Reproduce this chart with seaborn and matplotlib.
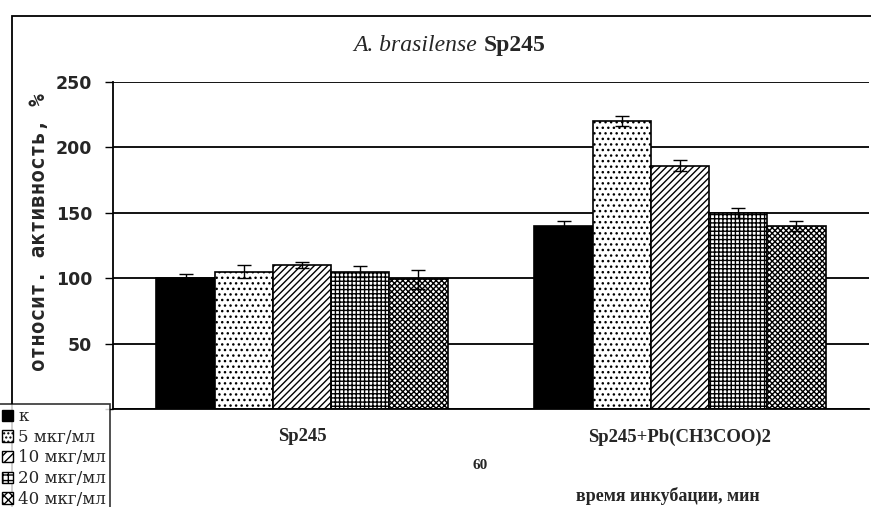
import pandas as pd
import matplotlib.pyplot as plt
import seaborn as sns
from matplotlib.patches import Patch, Rectangle

# данные
groups = ['Sp245', 'Sp245+Pb(CH3COO)2']
doses = ['к', '5 мкг/мл', '10 мкг/мл', '20 мкг/мл', '40 мкг/мл']
vals_sp245 = [100, 105, 110, 105, 99]
vals_pb = [140, 220, 186, 150, 140]
err_sp245 = [3, 5, 2, 4, 7]
err_pb = [4, 4, 4, 4, 4]

hatches = ['', '...', '/////', '++++', 'xxxxxx']
colors = ['black', 'white', 'white', 'white', 'white']

df = pd.DataFrame({
    'группа': [groups[0]] * 5 + [groups[1]] * 5,
    'доза': doses * 2,
    'акт': vals_sp245 + vals_pb,
    'err': err_sp245 + err_pb,
})

sns.set_style('white')
plt.rcParams['font.family'] = ['Liberation Serif', 'DejaVu Serif']
plt.rcParams['hatch.linewidth'] = 1.0

fig = plt.figure(figsize=(8.71, 5.07), dpi=100)
ax = fig.add_axes([0.1297, 0.1933, 0.868, 0.645])

sns.barplot(data=df, x='группа', y='акт', hue='доза', order=groups,
            hue_order=doses, palette=colors, edgecolor='black', linewidth=1.2,
            width=0.77, errorbar=None, legend=False, ax=ax)
ax.set_xlim(-0.5, 1.5)

# штриховка и планки погрешностей
bar_conts = list(ax.containers)
for i, cont in enumerate(bar_conts):
    for j, bar in enumerate(cont):
        bar.set_hatch(hatches[i])
        bar.set_edgecolor('black')
        x = bar.get_x() + bar.get_width() / 2
        e = df[(df['доза'] == doses[i]) & (df['группа'] == groups[j])]['err'].iloc[0]
        ax.errorbar(x, bar.get_height(), yerr=e, color='black', capsize=5,
                    elinewidth=1, capthick=1, zorder=5)

ax.set_ylim(0, 250)
ax.set_yticks([0, 50, 100, 150, 200, 250])
ax.set_yticklabels(['', '50', '100', '150', '200', '250'],
                   fontfamily='DejaVu Sans', fontweight='bold', fontsize=12.5)
ax.tick_params(axis='y', length=6, width=1, color='black', left=True, pad=9)
ax.tick_params(axis='x', length=0, labelsize=13.5, pad=14)
for lbl in ax.get_xticklabels():
    lbl.set_fontweight('bold')
ax.yaxis.grid(True, color='black', linewidth=1.3)
ax.set_axisbelow(True)
for s in ['top', 'right']:
    ax.spines[s].set_visible(False)
for s in ['left', 'bottom']:
    ax.spines[s].set_color('black')
    ax.spines[s].set_linewidth(1.3)
ax.set_xlabel('')
ax.set_ylabel('относит. активность, %', fontfamily='DejaVu Sans Mono',
              fontweight='bold', fontsize=15)
ax.yaxis.set_label_coords(-0.084, 0.54)

# заголовок
fig.text(0.548, 0.9, 'A. brasilense', style='italic', fontsize=17, ha='right')
fig.text(0.555, 0.9, 'Sp245', fontweight='bold', fontsize=17, ha='left')

fig.text(0.551, 0.075, '60', fontweight='bold', fontsize=11, ha='center')
fig.text(0.767, 0.012, 'время инкубации, мин', fontweight='bold', fontsize=13,
         ha='center')

# рамка
fig.add_artist(Rectangle((12 / 871, -0.02), 1.0, 1 - 16 / 507 + 0.02,
                         transform=fig.transFigure, fill=False,
                         edgecolor='black', linewidth=1.3))

handles = [Patch(facecolor=c, edgecolor='black', hatch=h)
           for c, h in zip(colors, ['', '....', '////', '+++', 'xxxx'])]
leg = fig.legend(handles, doses, loc='upper left', bbox_to_anchor=(-0.002, 1 - 404 / 507),
                 prop={'family': 'DejaVu Serif', 'size': 12}, frameon=True,
                 fancybox=False, handlelength=0.65, handleheight=0.65,
                 handletextpad=0.3, borderpad=0.25, labelspacing=0.22,
                 borderaxespad=0)
leg.get_frame().set_edgecolor('black')
leg.get_frame().set_linewidth(1.2)

fig.savefig('out.png', dpi=100)
